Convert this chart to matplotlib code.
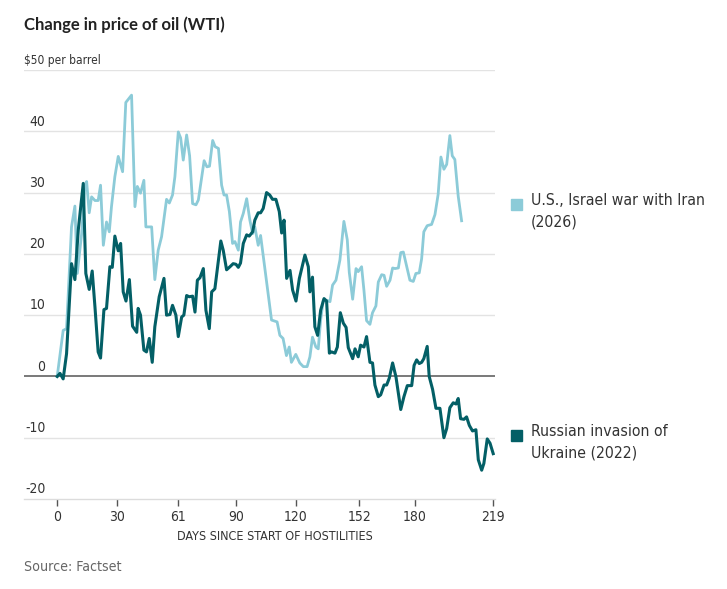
import matplotlib
matplotlib.use("Agg")
import matplotlib.pyplot as plt
import matplotlib.transforms as mtransforms

plt.rcParams['font.family'] = ['DejaVu Sans']
plt.rcParams['font.stretch'] = 'condensed'

# Days since start of hostilities and change in WTI price ($ per barrel)
iran_days = [0, 3, 4.7, 7.2, 8.9, 10.1, 12.3, 13.9, 14.8, 16.1, 17.3, 19, 20.6, 21.8,
             23.2, 24.8, 26.2, 27.3, 29, 30.7, 32.9, 34.5, 37.4, 39.1, 40.3, 41.9,
             43.6, 44.6, 47.5, 49.1, 50.8, 52.5, 55, 56.4, 58, 59.2, 60.9, 62.1, 63.4,
             65.1, 66.6, 68.1, 69.8, 71, 72.2, 73.9, 75.3, 76.6, 78.2, 79.4, 81.1,
             82.7, 83.9, 85.2, 86.6, 88.2, 89.4, 91.1, 92.2, 93.6, 95.3, 96.9, 98.3,
             99.4, 101.1, 102.3, 103.9, 106.1, 107.8, 110.6, 112, 113.6, 115.3, 116.7,
             117.8, 120, 122, 123.8, 125.7, 127.1, 128.4, 130.1, 131.3, 132.5, 133.8,
             135.8, 137.2, 138.5, 140.2, 142.2, 144.2, 145.9, 146.9, 148.6, 150.3,
             151.4, 153.1, 154.3, 155.6, 157.3, 158.6, 160.3, 161.5, 163.2, 164.4,
             165.7, 167.4, 168.7, 169.9, 171.6, 172.8, 174.1, 175.8, 177.4, 179.1,
             180.4, 182.1, 183.3, 184.4, 186.1, 188.3, 190, 191.6, 193, 194.5, 195.9,
             197.5, 198.7, 200, 201.7, 203.4]
iran_vals = [0, 7.5, 7.8, 24.4, 27.8, 16.8, 23.3, 31, 31.8, 26.7, 29.3, 28.7, 28.7, 31.2,
             21.4, 25.2, 23.6, 27.7, 32.6, 35.9, 33.4, 44.7, 45.9, 27.7, 31, 29.9,
             32, 24.4, 24.4, 15.8, 20.6, 22.8, 28.9, 28.3, 29.6, 32.6, 39.9, 38.9, 35.3,
             39.4, 36, 28.2, 28, 28.8, 31.5, 35.2, 34.2, 34.3, 38.5, 37.5, 37.2,
             31.2, 29.6, 29.6, 26.9, 21.7, 22, 20.6, 25.2, 26.6, 29, 25.5, 23.3,
             24.4, 21.4, 23, 19, 13.5, 9.2, 8.9, 6.7, 6.2, 3.4, 4.8,
             2.3, 3.6, 2.2, 1.6, 1.6, 3.2, 6.4, 4.8, 4.5, 9.2, 12.4,
             12.4, 12.2, 14.9, 15.7, 19, 25.3, 22.3, 17, 12.6, 17.6,
             17.1, 17.9, 14, 9.1, 8.5, 10.4, 11.5, 15.4, 16.6, 16.5,
             14.7, 15.7, 17.7, 17.6, 17.7, 20.2, 20.3, 17.9, 15.7, 15.5,
             16.8, 16.9, 19.2, 23.6, 24.6, 24.8, 26.4, 29.7, 35.8, 33.8, 34.6,
             39.3, 36, 35.4, 29.4, 25.4]

ukraine_days = [0, 1.4, 3, 4.7, 7.2, 8.9, 10.6, 13.1, 14.4, 16.1, 17.6, 19, 20.6, 21.8,
                23.5, 24.8, 26.5, 27.7, 29, 30.7, 31.9, 33.2, 34.6, 36.3, 37.9, 40,
                40.7, 41.9, 43.6, 44.9, 46.3, 47.8, 49.1, 51.3, 53.7, 55, 56.7, 58,
                59.7, 60.9, 62.6, 63.7, 65.1, 66.4, 68.1, 69.3, 70.5, 71.8, 73.5, 74.8,
                76.5, 77.7, 79.3, 81, 82.3, 83.5, 85.2, 86.9, 88.5, 89.9, 91.1, 92.2,
                93.6, 95.3, 96.6, 98.3, 99.4, 101.1, 102.3, 103.6, 105.3, 106.9, 108.3,
                110, 111.7, 112.9, 114.1, 115.4, 117.1, 118.4, 120.1, 121.8, 123, 124.6,
                126.3, 127.1, 128.4, 129.6, 131, 132.5, 134.2, 135.5, 136.9, 138, 139.7,
                140.9, 142.4, 143.9, 145.3, 146.4, 148.6, 149.8, 151.4, 152.6, 154.3,
                155.6, 157.3, 158.6, 159.8, 161.5, 162.7, 164.4, 165.7, 167, 168.7,
                170.4, 172.8, 174.4, 176.1, 178.3, 179.5, 180.8, 182.1, 183.3, 184.4,
                186.1, 187.1, 188.8, 190.5, 192.5, 194.5, 195.9, 197.5, 199.2, 200.6,
                201.7, 202.9, 204.6, 205.9, 207.3, 208.9, 210.6, 211.8, 213.5, 214.6,
                216.3, 217.7, 219.3]
ukraine_vals = [0, 0.5, -0.4, 3.7, 18.4, 15.8, 23.9, 31.5, 16.8, 14.2, 17.2, 11.3, 4, 3,
                10.9, 11.1, 17.9, 17.8, 22.9, 20.5, 21.7, 13.8, 12.3, 15.8, 8.2, 7.2,
                11.1, 10, 4.3, 4, 6.2, 2.3, 8.1, 13, 16, 10, 10.1, 11.6,
                10, 6.5, 9.7, 10, 13.2, 13, 13.1, 10.5, 15.7, 16.1, 17.6, 10.8,
                7.8, 13.8, 14.3, 18.7, 22.1, 20.6, 17.4, 17.9, 18.4, 18.3, 17.8, 18.5,
                21.7, 23.1, 22.9, 23.6, 25.5, 26.7, 26.7, 27.4, 30, 29.6, 28.9,
                28.9, 26.9, 23.4, 25.5, 16, 17.3, 14.1, 12.3, 16, 17.6, 19.8,
                17.9, 13.8, 16.2, 8.1, 6.7, 10.8, 12.7, 12.3, 3.8, 4, 3.8,
                4.8, 10.4, 8.7, 8, 4.7, 2.9, 4.5, 3.2, 5.1, 4.8,
                6.5, 2.3, 2.2, -1.4, -3.3, -3, -1.4, -1.4, -0.3, 2.2,
                -0.1, -5.4, -3.3, -1.5, -1.5, 1.8, 2.7, 2.1, 2.3, 2.9,
                4.9, 0, -2.1, -5.2, -5.2, -10, -8.5, -5.1, -4.3, -4.5,
                -3.6, -6.9, -7, -6.6, -8, -8.9, -8.7, -13.6, -15.3, -14.2,
                -10.2, -10.9, -12.6]

x_ticks = [0, 30, 61, 90, 120, 152, 180, 219]
y_ticks = [-20, -10, 0, 10, 20, 30, 40, 50]
series_names = ["U.S., Israel war with Iran\n(2026)", "Russian invasion of\nUkraine (2022)"]

LIGHT = "#8ccbd8"
DARK = "#035f66"
W, H = 727, 589

fig = plt.figure(figsize=(7.27, 5.89), dpi=100)
ax = fig.add_axes([24 / W, 1 - 499 / H, (495 - 24) / W, (499 - 70) / H])
ax.set_xlim(-16.7, 220.2)
ax.set_ylim(-20, 50)

# Gridlines
for y in y_ticks[1:]:
    if y == 0:
        ax.axhline(0, color="#6e6e6e", lw=1.3, zorder=3)
    else:
        ax.axhline(y, color="#e3e3e3", lw=1, zorder=0)

ax.plot(iran_days, iran_vals, color=LIGHT, lw=2.0, zorder=4, solid_joinstyle="round")
ax.plot(ukraine_days, ukraine_vals, color=DARK, lw=2.2, zorder=5, solid_joinstyle="round")

for s in ["top", "right", "left"]:
    ax.spines[s].set_visible(False)
ax.spines["bottom"].set_color("#dcdcdc")
ax.spines["bottom"].set_linewidth(1)
ax.set_yticks([])
ax.set_xticks(x_ticks)
ax.set_xticklabels([str(t) for t in x_ticks], fontsize=10, color="#333333")
ax.tick_params(axis="x", length=5, width=1, color="#555555", pad=3)

# Y labels sit just above their gridlines
for y in y_ticks[:-1]:
    ax.annotate(str(y), xy=(-6, y), xytext=(0, 2), textcoords="offset points",
                ha="right", va="bottom", fontsize=10, color="#333333")
ax.annotate("$50 per barrel", xy=(-16.7, 50), xytext=(0, 2), textcoords="offset points",
            ha="left", va="bottom", fontsize=8.6, color="#333333")

trans = mtransforms.blended_transform_factory(ax.transData, fig.transFigure)
ax.text(109.5, 1 - 537 / H, "DAYS SINCE START OF HOSTILITIES", transform=trans,
        ha="center", va="center", fontsize=9, color="#333333")

# Legend entries on the right
for name, color, ypx in zip(series_names, [LIGHT, DARK], [204, 435]):
    fig.patches.append(plt.Rectangle((511 / W, 1 - (ypx + 6) / H), 11 / W, 11 / H,
                                     transform=fig.transFigure, color=color))
    fig.text(531 / W, 1 - (ypx - 11) / H, name, ha="left", va="top",
             fontsize=11.3, color="#333333", linespacing=1.58)

fig.text(24 / W, 1 - 25 / H, "Change in price of oil (WTI)", ha="left", va="center",
         fontsize=12, fontweight="bold", color="#222222", family=["Lato", "DejaVu Sans"],
         stretch="normal")
fig.text(24 / W, 1 - 567 / H, "Source: Factset", ha="left", va="center",
         fontsize=10.2, color="#666666")

fig.savefig("out.png", dpi=100)
